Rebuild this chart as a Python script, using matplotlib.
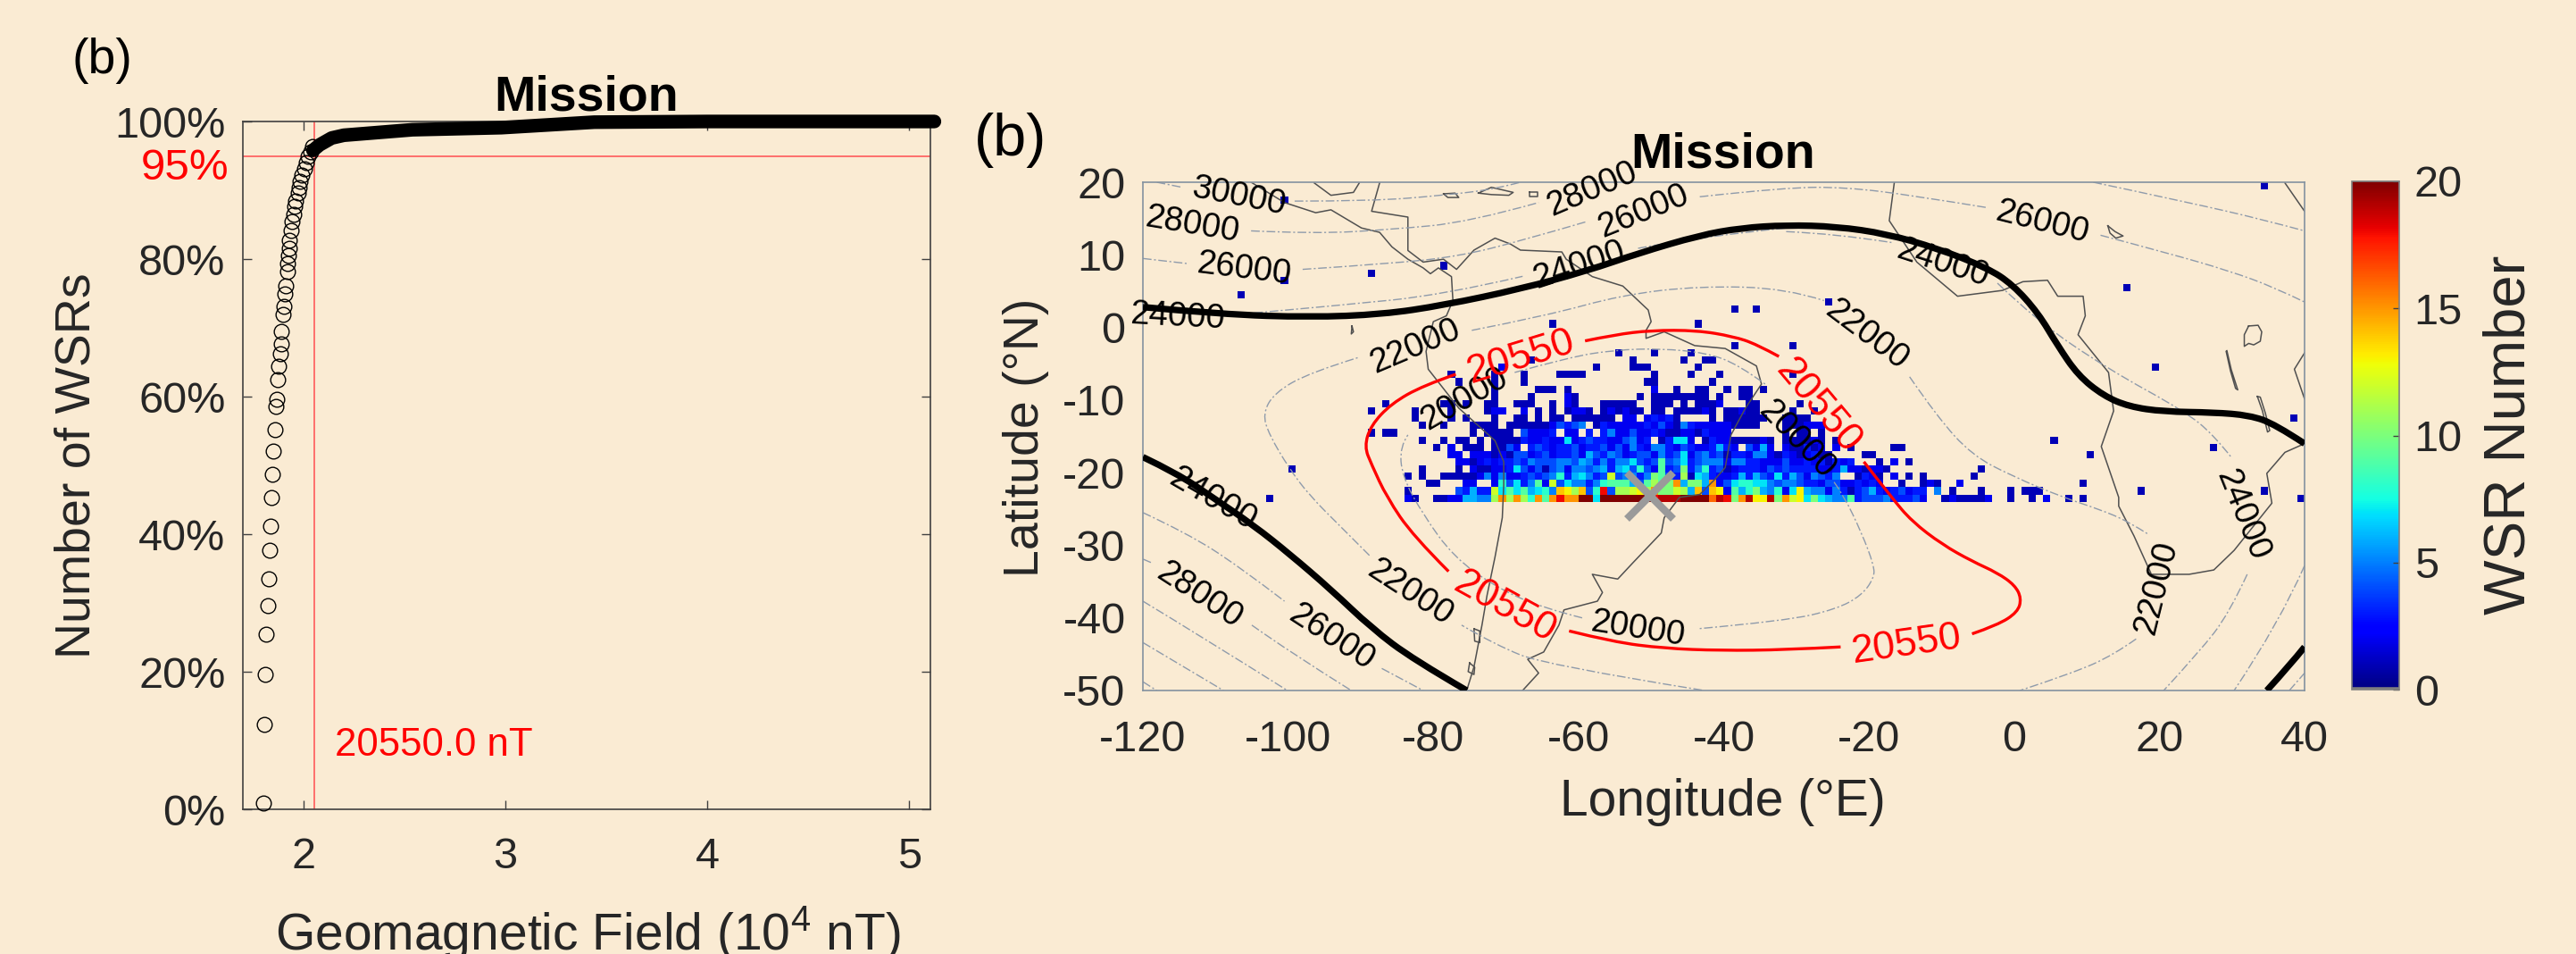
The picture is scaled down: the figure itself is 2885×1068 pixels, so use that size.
import numpy as np
import matplotlib
matplotlib.use("Agg")
import matplotlib.pyplot as plt
from matplotlib.path import Path
from matplotlib.patches import PathPatch

plt.rcParams['font.family'] = ['Liberation Sans', 'DejaVu Sans']
plt.rcParams['mathtext.fontset'] = 'custom'
plt.rcParams['mathtext.rm'] = 'Liberation Sans'
plt.rcParams['mathtext.default'] = 'regular'
plt.rcParams['axes.unicode_minus'] = False

BG = '#FAEBD3'
DARK = '#262626'
W, H = 2885, 1068

# left panel, cumulative share of WSRs
field_x = [1.801, 1.808, 1.811, 1.817, 1.823, 1.829, 1.832, 1.839, 1.842, 1.848, 1.851, 1.857,
           1.863, 1.870, 1.873, 1.879, 1.885, 1.888, 1.891, 1.898, 1.904, 1.907, 1.913, 1.919,
           1.922, 1.926, 1.929, 1.932, 1.938, 1.944, 1.950, 1.957, 1.963, 1.972, 1.978, 1.984,
           1.994, 2.003, 2.012, 2.022, 2.034, 2.047]
pct_y = [0.9, 12.4, 19.6, 25.5, 29.6, 33.5, 37.6, 41.2, 45.3, 48.7, 52.1, 55.2,
         58.6, 59.6, 62.5, 64.4, 66.2, 67.7, 69.5, 71.9, 73.1, 74.9, 76.1, 78.2,
         79.3, 80.5, 81.6, 82.7, 84.1, 85.4, 86.5, 87.6, 88.5, 89.6, 90.4, 91.3,
         92.2, 93.1, 94.0, 94.9, 95.6, 96.3]
tail_x = [2.047, 2.08, 2.14, 2.2, 2.54, 2.98, 3.44, 4.0, 4.5, 5.0, 5.125]
tail_y = [95.8, 96.6, 97.6, 98.0, 98.8, 99.1, 99.9, 100, 100, 100, 100]
pct_ticks = [0, 20, 40, 60, 80, 100]
pct_labels = ['0%', '20%', '40%', '60%', '80%', '100%']
field_ticks = [2, 3, 4, 5]

# WSR counts per 1 degree cell, first string is latitude -24, first char is longitude -90
# . empty, 1-9, a=10 ... k=20
wsr_rows = [
    "......21..11226655bfbfb8f9fiffkk7" "kkkkkkkijjjkkkkgjiafjddjafcd7a765" "593444533342..1211112..1..1.2..1.1.",
    "......1......43633c79796785edbe48" "i4bbcdbfaacb6e4ed2968a65827d65525" "313463234233.5.1...1...1.111.......",
    ".........11...22..28473592c475535" "8999649b9af6aa6f24788775455433244" "223232..1..121..2................1.",
    "......1.1..1111125252234345836753" "4c45535a943b176322363643736425435" "..1321.2.1.1......1................",
    "........1....1.211223742414525545" "63674842934a358341233324343333223" "6221221............1...............",
    ".............22123233435444554653" "535574349457345552553322242232313" "23...1.2.1",
    "............22.222121442342334264" "35423442534724534133255213212311." "...11",
    "..........1.2.111.1142.3432334233" "4242532553" "243223632." "4262.21131" "2.2" ".1.....11",
    "........1..1.11.1.111132232272343" "32245" "23.13" "772.1" "32211" "1121." "11112" "1.1" ".............................1",
    ".1.11..........1.1111.42223.22.3." "35224" "22321" "12213" "222" "......." "1.11.1..",
    "........1..1...1111.11111124345.1" "3222223242153222221111...111222..",
    ".......1....1.1...1..11.1.11.1111" "11.22.23231....1.111111..1111....",
    ".1.....1....1....122..2.1.1.1221." "121211.11.111121.112" "11....1..1...",
    "...1.......11.1..11..111..1.21..." "11111..111.1.1112...11.....1.....",
    "..................1....1....21..." ".....1.11111111.1..11............",
    "..................1.....111.1...." ".......2..1..11..1.11.1..........",
    ".............1....1...1.........." "......11.......1.................",
    "............1.....1...1....1111.." ".......1....1...1.........1......",
    "...................2............1" "....111......1...................",
    ".......................1........." "....1......1..11.................",
    "................................." "..1....1....1....................",
    "................................." "..................1.......1......",
    "",
    "",
    "..........................1......" ".............1...................",
]
# isolated single cells, lon and lat of lower left corner
extra_lon = [-101, -101, -89, -107, -79, -100, -103, 34, 15, 19, 38, 5, 10, 27, 17, 34, 39, -39, -36, -26]
extra_lat = [17, 6, 7, 4, 8, -20, -24, 19, 5, -6, -13, -16, -18, -17, -23, -23, -24, 2, 2, 3]

# contour lines, lon/lat
thick_lines = [
    [[-120, 2.8], [-109, 1.8], [-97, 1.4], [-87, 1.8], [-78.6, 3.06], [-68, 5.3], [-58.8, 7.8], [-51.8, 10.2],
     [-43.3, 12.7], [-37.6, 13.7], [-31.4, 14.1], [-24.5, 13.9], [-17.6, 12.9], [-10.6, 10.9], [-3.7, 8.2],
     [-0.2, 5.9], [3.3, 2.0], [6.0, -2.5], [8.8, -6.6], [12.3, -9.4], [15.8, -10.9], [20.6, -11.6], [27.5, -11.7],
     [32.4, -12.1], [35.9, -13.3], [40, -16]],
    [[-120, -17.85], [-115.3, -20.1], [-110.4, -23.4], [-104.7, -27.3], [-99.8, -31.2], [-94.1, -36.1],
     [-88.5, -41.4], [-82.8, -45.7], [-75.4, -50]],
    [[34.8, -50], [38, -46.5], [40, -44]],
]
red_lines = [
    [[-76.9, -6.45], [-81.4, -8.0], [-85.8, -10.5], [-88.6, -13.5], [-89.5, -16.4], [-88.5, -18.9], [-86.4, -23.4],
     [-82.8, -28.7], [-77.9, -33.6]],
    [[-61.3, -41.8], [-55.3, -43.3], [-48.2, -44.2], [-40.5, -44.5], [-31.4, -44.4], [-23.9, -44.0]],
    [[-5.8, -42.2], [-2.3, -41], [0.5, -39.2], [1, -37.3], [0.1, -35.5], [-2.3, -33.8], [-5.8, -32.2], [-9.9, -29.9],
     [-14.1, -26.7], [-16.9, -23.4], [-20.7, -18.5]],
    [[-59.1, -1.85], [-55, -1.0], [-50, -0.4], [-43.7, -0.4], [-38.7, -1.24], [-35.5, -2.3], [-32.4, -4.0]],
]
thin_lines = [
    # 20000
    [[-68.8, -6.2], [-61.3, -4.1], [-55, -3.1], [-48.7, -2.9], [-42.4, -3.5], [-38, -5.1], [-34.3, -7.8]],
    [[-24.8, -21.3], [-23.5, -23.1], [-21, -28.3], [-19.3, -32.8], [-19.3, -34.5], [-21, -36.9], [-24.5, -38.8],
     [-31.4, -40.4], [-43.6, -41.5]],
    [[-59.5, -40], [-65.2, -38.55], [-71.5, -35.7], [-77.2, -31.6], [-81.4, -25.8], [-84.3, -20.5], [-84.6, -16.4],
     [-83.5, -14.8]],
    # 22000
    [[-74.7, -0.4], [-64.5, 1.6], [-53.9, 4.5], [-43.3, 5.7], [-31.4, 5.4], [-26.2, 3.7]],
    [[-14.4, -6.8], [-10.6, -12.3], [-5.8, -17.6], [-0.2, -20.5], [6.7, -23.4], [11.6, -25], [15.7, -26.7], [18.5, -28.5]],
    [[16.8, -42.9], [13.7, -45.1], [8.1, -47.6], [0.8, -50]],
    [[-43, -49.95], [-64.5, -46.5], [-71.5, -43.7], [-76.1, -41]],
    [[-88.8, -31.4], [-92.7, -27.5], [-97, -23.2], [-99.8, -19.5], [-102.6, -14.8], [-103.5, -11.9], [-101.9, -9],
     [-97, -6.2], [-90.2, -4.1]],
    # 24000 neighbours
    [[-2.3, 6.1], [3, 1], [12.97, -5.75], [23.4, -11.5], [27.5, -14.8], [30, -18]],
    [[32.1, -34], [29.6, -39.4], [25.5, -44.7], [20.6, -50]],
    [[40, -32.8], [36.6, -40.6], [30.3, -50]],
    [[37.9, -50], [40, -47.6]],
    [[-31.4, 13.2], [-24.5, 12.9], [-16.9, 11.7]],
    [[-51.8, 10.9], [-43.3, 12.5], [-31.4, 13.7]],
    [[-106.8, 1.8], [-92.7, 3.06], [-78.6, 4.5], [-67.7, 7.04]],
    # 26000
    [[-120, 9.5], [-113.9, 8.8]],
    [[-98, 8], [-85.7, 8.8], [-76.5, 9.8], [-68, 11.9], [-58.8, 14.6]],
    [[-43.3, 18], [-31.4, 19.3], [-23.1, 19.3], [-14.1, 18.2], [-3.7, 16.5]],
    [[11.9, 12.7], [21.3, 10.2], [29.6, 7.8], [35.9, 5.5], [40, 3.5]],
    [[-120, -25.5], [-114, -28.3], [-106.9, -32.8], [-100.5, -37.7]],
    [[-87.1, -46.96], [-81.4, -50]],
    # 28000
    [[-105.1, 13.3], [-96.2, 12.9], [-85.7, 13.5], [-75.1, 14.5], [-65.5, 17.2]],
    [[10.9, 20], [24.1, 17.2], [34.5, 14.8], [40, 13.3]],
    [[-120, -31.9], [-118.6, -32.5]],
    [[-105, -41], [-99.8, -44.7], [-91.3, -50]],
    # 30000 and beyond
    [[-118.1, 20], [-114.6, 19.3]],
    [[-99.1, 17.4], [-88.5, 17.4], [-78.6, 18.2], [-71.5, 19.05], [-68, 20]],
    [[-120, -37.7], [-111.8, -42.65], [-100.1, -50]],
    [[-120, -43.4], [-108.9, -50]],
    [[-120, -48.8], [-118.1, -50]],
]

# coast, lon/lat
coast_lines = [
    [[-105.1, 20], [-100.5, 17.2], [-96.2, 15.8], [-94.1, 16.2], [-89.9, 13.7], [-87.4, 13.1], [-85.7, 11.1], [-83.5, 9.4],
     [-81.4, 8.2], [-80.4, 7.4], [-79.3, 8.2], [-77.5, 7], [-77.3, 3.7], [-78.2, 1.6], [-80, 0.8], [-81, -3.3], [-80.7, -5.75],
     [-76.5, -11.1], [-71.5, -15.6], [-70.3, -18.5], [-70.3, -21.7], [-70.5, -26.2], [-71.5, -31.6], [-72.6, -36.9],
     [-73.3, -41], [-74.4, -46.75], [-75.4, -50]],
    [[-96.4, 19.9], [-94.1, 18.2], [-91, 18.6], [-90.2, 19.9]],
    [[-87.4, 19.9], [-88.5, 16], [-83.5, 15.2], [-83.5, 10.6], [-81.4, 9], [-78.6, 9.4], [-76.8, 8], [-74.4, 10.65],
     [-71.5, 12.3], [-69.4, 11.5], [-68, 10.65], [-62.3, 10.4], [-61.7, 9.4], [-58.1, 7], [-53.9, 5.7], [-50.4, 2.4],
     [-50, 0.8], [-50.7, -0.4], [-50.7, -1.5], [-48.2, -0.6], [-44, -2.5], [-39.8, -2.9], [-35.5, -5.3], [-34.8, -7.8],
     [-37, -11.1], [-39, -14.8], [-39.8, -19.3], [-41.2, -20.9], [-43.3, -23], [-46.1, -23.4], [-48.2, -26.2],
     [-48.6, -28.3], [-52.5, -32.4], [-54.6, -34.65], [-58.1, -34], [-56.7, -36.5], [-57.4, -37.7], [-62, -38.9],
     [-62.7, -41], [-64.8, -44.7], [-67, -45.7], [-65.5, -47.6], [-67.7, -50]],
    [[-16.5, 20], [-17.2, 14.7], [-13.4, 9], [-7.8, 4.3], [-1.6, 5.1], [1.2, 6.3], [4.6, 6.5], [6, 4.3], [9.5, 4.3], [9.8, 1.6],
     [8.8, -1], [13, -6.2], [13.7, -11.5], [12, -16.4], [14.4, -23.4], [14.4, -24.6], [16.5, -28.7], [18.9, -34], [24.1, -34],
     [27.5, -33.4], [30.3, -30.7], [35.5, -24.2], [34.8, -20.1], [37.3, -17.2], [40, -16]],
    [[37.3, 19.9], [40, 16]],
    [[40, -3.5], [38.6, -5.75], [40, -9.85]],
    # islands and lakes
    [[-91.2, 0.2], [-91.0, -0.6], [-91.3, -0.9], [-91.2, 0.2]],
    [[-78.6, 18.4], [-77, 18.5], [-76.5, 17.9], [-78, 17.9], [-78.6, 18.4]],
    [[-73.8, 18.5], [-72, 19.3], [-69, 18.6], [-69.6, 18.2], [-72, 18.3], [-73.8, 18.5]],
    [[-66.8, 18.6], [-65.7, 18.6], [-65.7, 18.0], [-66.8, 18.0], [-66.8, 18.6]],
    [[12.9, 14], [13.9, 13.2], [15, 12.6], [14, 12.3], [13.2, 13], [12.9, 14]],
    [[32.3, 0.2], [33.6, 0.3], [34.1, -0.6], [33.9, -1.9], [33, -2.4], [32.3, -2.2], [31.7, -2.6], [31.7, -1], [32.3, 0.2]],
    [[29.2, -3.3], [29.8, -6], [30.5, -8.4], [30.8, -8.6], [29.9, -5.8], [29.3, -3.2]],
    [[33.5, -9.5], [34.2, -11.5], [34.9, -14.4], [35.2, -14.2], [34.6, -11.8], [33.9, -9.6], [33.5, -9.5]],
    [[-74.4, -41.5], [-73.6, -41.8], [-73.6, -43.4], [-74.3, -43.2], [-74.4, -41.5]],
    [[-75, -46.2], [-74.3, -46.8], [-74.4, -47.8], [-75.2, -47.4], [-75, -46.2]],
]

# contour label text: lon, lat, rotation
black_labels = [
    ('30000', -106.8, 18, -11), ('28000', -113.2, 14.1, -9.5), ('26000', -106.1, 8, -7), ('24000', -115.3, 1.4, -3),
    ('28000', -58.1, 19.05, 23), ('26000', -51.1, 16, 22), ('24000', -59.9, 8.6, 18), ('22000', -82.5, -2.7, 23),
    ('20000', -75.7, -9.85, 30), ('26000', 3.9, 14.5, -14), ('24000', -9.9, 8.8, -18), ('22000', -20.3, -1.0, -37),
    ('20000', -29.9, -15.4, -46), ('24000', -110.4, -23.6, -30), ('28000', -112.2, -36.9, -33),
    ('26000', -94.1, -42.65, -33), ('22000', -83.2, -36.5, -33), ('20000', -51.8, -41.6, -9),
    ('22000', 19.6, -35.9, 76), ('24000', 31.4, -25.8, -68),
]
red_labels = [
    ('20550', -67.9, -4.1, 17), ('20550', -27, -10.9, -50), ('20550', -70.1, -38.55, -29), ('20550', -14.8, -43.7, 8),
]
cross_lon, cross_lat = -50.1, -23.2
lon_ticks = [-120, -100, -80, -60, -40, -20, 0, 20, 40]
lat_ticks = [-50, -40, -30, -20, -10, 0, 10, 20]
cbar_ticks = [0, 5, 10, 15, 20]


def box(l, t, r, b):
    return [l / W, 1 - b / H, (r - l) / W, (b - t) / H]


def put(x, y, s, **kw):
    kw.setdefault('color', DARK)
    kw.setdefault('va', 'center')
    kw.setdefault('ha', 'center')
    fig.text(x / W, 1 - y / H, s, **kw)


def smooth_line(ax, pts, **kw):
    # quadratic curve through midpoints, data points act as the control points
    pts = np.array(pts, dtype=float)
    if len(pts) < 3:
        ax.plot(pts[:, 0], pts[:, 1], **kw)
        return
    verts = [pts[0]]
    codes = [Path.MOVETO]
    for i in range(1, len(pts) - 1):
        end = pts[i + 1] if i == len(pts) - 2 else (pts[i] + pts[i + 1]) / 2
        verts += [pts[i], end]
        codes += [Path.CURVE3, Path.CURVE3]
    color = kw.pop('color')
    lw = kw.pop('lw')
    ls = kw.pop('ls', '-')
    ax.add_patch(PathPatch(Path(verts, codes), fill=False, edgecolor=color, lw=lw, ls=ls, **kw))


fig = plt.figure(figsize=(W / 100, H / 100), dpi=100, facecolor=BG)

# left panel
ax1 = fig.add_axes(box(272, 136, 1042, 906), facecolor=BG)
ax1.set_xlim(1.70, 5.105)
ax1.set_ylim(0, 100)
ax1.axhline(95, color='#ff5a5a', lw=1.2, zorder=1)
ax1.axvline(2.055, color='#ff5a5a', lw=1.2, zorder=1)
ax1.plot(field_x, pct_y, 'o', mfc='none', mec='black', ms=12, mew=1.0, clip_on=False, zorder=3)
ax1.plot(tail_x, tail_y, color='black', lw=11, solid_capstyle='round', clip_on=False, zorder=3)
ax1.set_xticks(field_ticks)
ax1.set_yticks(pct_ticks)
ax1.set_yticklabels(pct_labels)
ax1.tick_params(direction='in', length=7, width=1, top=True, right=True, color='#404040',
                labelsize=35, labelcolor=DARK, pad=14)
ax1.tick_params(axis='x', pad=22)
for s in ax1.spines.values():
    s.set_color('#404040')
    s.set_linewidth(1.2)

put(81, 68, '(b)', fontsize=40, ha='left', color='black')
put(657, 110, 'Mission', fontsize=40, fontweight='bold', color='black')
put(87, 521, 'Number of WSRs', fontsize=40, rotation=90)
put(658, 1063, 'Geomagnetic Field (10$^4$ nT)', fontsize=41, va='baseline')
put(256, 189, '95%', fontsize=35.5, ha='right', color='red')
put(375, 834, '20550.0 nT', fontsize=31.5, ha='left', color='red')

# map
ax2 = fig.add_axes(box(1280, 204, 2581, 773), facecolor=BG)
ax2.set_xlim(-120, 40)
ax2.set_ylim(-50, 20)

grid = np.full((70, 160), np.nan)
for r, row in enumerate(wsr_rows):
    for c, ch in enumerate(row):
        if ch != '.':
            grid[r + 26, c + 30] = int(ch, 36)
for lo, la in zip(extra_lon, extra_lat):
    grid[la + 50, lo + 120] = 1

im = ax2.imshow(grid, origin='lower', extent=[-120, 40, -50, 20], aspect='auto', cmap='jet',
                vmin=0, vmax=20, interpolation='nearest', zorder=1)
for seg in coast_lines:
    ax2.plot([p[0] for p in seg], [p[1] for p in seg], color='#505050', lw=1.1, zorder=2)
for seg in thin_lines:
    smooth_line(ax2, seg, color='#8f9bab', lw=1.0, ls=(0, (7, 2, 1.5, 2)), zorder=2)
for seg in thick_lines:
    smooth_line(ax2, seg, color='black', lw=5.2, zorder=3)
for seg in red_lines:
    smooth_line(ax2, seg, color='red', lw=2.4, zorder=4)
for txt, lo, la, rot in black_labels:
    ax2.text(lo, la, txt, fontsize=27.5, rotation=rot, rotation_mode='anchor', ha='center', va='center',
             color='black', zorder=5)
for txt, lo, la, rot in red_labels:
    ax2.text(lo, la, txt, fontsize=32, rotation=rot, rotation_mode='anchor', ha='center', va='center',
             color='red', zorder=5)
ax2.plot([cross_lon], [cross_lat], 'x', color='#9a9a9a', ms=38, mew=6, zorder=6)

ax2.set_xticks(lon_ticks)
ax2.set_yticks(lat_ticks)
ax2.tick_params(length=0, labelsize=35, labelcolor=DARK)
ax2.tick_params(axis='x', pad=24)
ax2.tick_params(axis='y', pad=14)
for s in ax2.spines.values():
    s.set_color('#8492a0')
    s.set_linewidth(1.2)

put(1091, 157, '(b)', fontsize=48, ha='left', color='black')
put(1930, 173, 'Mission', fontsize=40, fontweight='bold', color='black')
put(1929, 898, 'Longitude (°E)', fontsize=41)
put(1149, 490, 'Latitude (°N)', fontsize=40, rotation=90)
put(2810, 487, 'WSR Number', fontsize=47, rotation=90)

# colour bar
cax = fig.add_axes(box(2634, 203, 2687, 772))
cb = fig.colorbar(im, cax=cax, ticks=cbar_ticks)
cb.outline.set_edgecolor('#7f7f7f')
cb.outline.set_linewidth(1.2)
cax.tick_params(direction='in', length=5, width=1, color='#404040', labelsize=35, labelcolor=DARK, pad=12)
cax.axhline(0, color='#7f7f7f', lw=4, clip_on=True)

fig.savefig('out.png', dpi=100, facecolor=BG)
